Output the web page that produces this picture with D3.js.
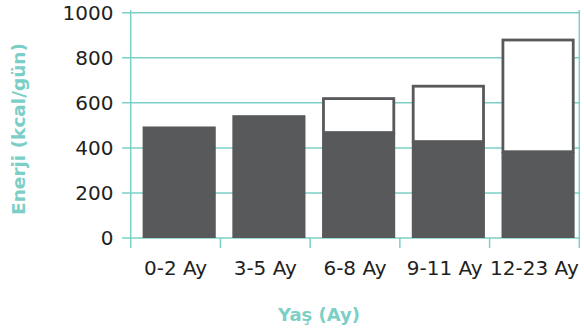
<!DOCTYPE html>
<html>
<head>
<meta charset="utf-8">
<script src="https://cdn.jsdelivr.net/npm/d3@7"></script>
<style>
  html, body { margin: 0; padding: 0; background: #fff; }
  svg { display: block; }
</style>
</head>
<body>
<svg id="chart" width="584" height="331"></svg>
<script>
const categories = ["0-2 Ay", "3-5 Ay", "6-8 Ay", "9-11 Ay", "12-23 Ay"];
const baseValues = [495, 545, 468, 428, 383];
const totalValues = [495, 545, 625, 680, 885];
const yTicks = [0, 200, 400, 600, 800, 1000];
const yTitle = "Enerji (kcal/gün)";
const xTitle = "Yaş (Ay)";

(function () {
const teal = "#7ccfc7";
const dark = "#58595b";
const textColor = "#231f20";
const font = "'DejaVu Sans', sans-serif";

const svg = d3.select("#chart");
svg.append("rect").attr("width", 584).attr("height", 331).attr("fill", "#fff");

const pLeft = 130.7, pRight = 579.3, pTop = 12.7, pBottom = 238;
const x = d3.scaleBand().domain(categories).range([pLeft, pRight]).padding(0);
const y = d3.scaleLinear().domain([0, 1000]).range([pBottom, pTop]);

// gridlines
svg.append("g").selectAll("line").data(yTicks).join("line")
  .attr("x1", pLeft - 8.7).attr("x2", pRight)
  .attr("y1", d => y(d)).attr("y2", d => y(d))
  .attr("stroke", teal).attr("stroke-width", 1.5);

// bars
const bw = x.bandwidth();
const barOff = bw * 0.133, barW = bw * 0.815;
const data = categories.map((c, i) => ({ c, base: baseValues[i], total: totalValues[i] }));

svg.append("g").selectAll("rect").data(data).join("rect")
  .attr("x", d => x(d.c) + barOff)
  .attr("width", barW)
  .attr("y", d => y(d.base))
  .attr("height", d => y(0) - y(d.base))
  .attr("fill", dark);

const sw = 2.8;
svg.append("g").selectAll("rect").data(data.filter(d => d.total > d.base)).join("rect")
  .attr("x", d => x(d.c) + barOff + sw / 2)
  .attr("width", barW - sw)
  .attr("y", d => y(d.total) + sw / 2)
  .attr("height", d => y(d.base) - y(d.total) - sw / 2)
  .attr("fill", "#fff")
  .attr("stroke", dark)
  .attr("stroke-width", sw);

// axis lines
const axG = svg.append("g").attr("stroke", teal).attr("stroke-width", 1.5);
axG.append("line").attr("x1", pLeft).attr("x2", pLeft).attr("y1", 10).attr("y2", 248);
axG.append("line").attr("x1", pRight).attr("x2", pRight).attr("y1", 10).attr("y2", 248);
axG.selectAll("line.tick").data(categories.slice(1)).join("line")
  .attr("class", "tick")
  .attr("x1", d => x(d)).attr("x2", d => x(d))
  .attr("y1", pBottom).attr("y2", 248);

// y tick labels
svg.append("g").selectAll("text").data(yTicks).join("text")
  .attr("x", 113.5).attr("y", d => y(d))
  .attr("dy", "0.36em")
  .attr("text-anchor", "end")
  .attr("font-family", font).attr("font-size", 20)
  .attr("fill", textColor)
  .text(d => d);

// x tick labels
svg.append("g").selectAll("text").data(categories).join("text")
  .attr("x", d => x(d) + bw / 2).attr("y", 275)
  .attr("text-anchor", "middle")
  .attr("font-family", font).attr("font-size", 20)
  .attr("fill", textColor)
  .text(d => d);

// axis titles
svg.append("text")
  .attr("transform", "translate(25,129) rotate(-90)")
  .attr("text-anchor", "middle")
  .attr("font-family", font).attr("font-size", 18.5).attr("font-weight", "bold")
  .attr("fill", teal)
  .text(yTitle);

svg.append("text")
  .attr("x", 319).attr("y", 321)
  .attr("text-anchor", "middle")
  .attr("font-family", font).attr("font-size", 18).attr("font-weight", "bold")
  .attr("fill", teal)
  .text(xTitle);
})();
</script>
</body>
</html>
